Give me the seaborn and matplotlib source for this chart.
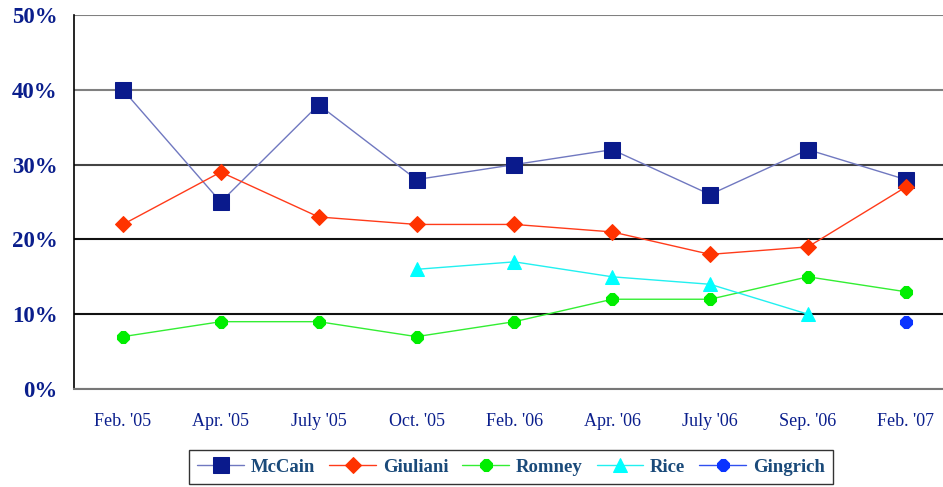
import numpy as np
import pandas as pd
import matplotlib
matplotlib.use("Agg")
import matplotlib.pyplot as plt
from matplotlib.ticker import FixedLocator, PercentFormatter
import seaborn as sns

# poll dates and candidate support (%)
dates = ["Feb. '05", "Apr. '05", "July '05", "Oct. '05", "Feb. '06",
         "Apr. '06", "July '06", "Sep. '06", "Feb. '07"]
mccain = [40, 25, 38, 28, 30, 32, 26, 32, 28]
giuliani = [22, 29, 23, 22, 22, 21, 18, 19, 27]
romney = [7, 9, 9, 7, 9, 12, 12, 15, 13]
rice = [np.nan, np.nan, np.nan, 16, 17, 15, 14, 10, np.nan]
gingrich = [np.nan, np.nan, np.nan, np.nan, np.nan, np.nan, np.nan, np.nan, 9]

sns.set_style("white")
plt.rcParams['font.family'] = ['Liberation Serif', 'DejaVu Serif']

fig = plt.figure(figsize=(9.43, 4.87), dpi=100)
ax = fig.add_axes([74 / 943, 1 - 389 / 487, 1 - 74 / 943, (389 - 15) / 487])

x = np.arange(len(dates))
series = [
    ("McCain", mccain, dict(color="#7078C0", marker="s", markersize=11,
                            markerfacecolor="#0A1A8C", markeredgecolor="#0A1A8C")),
    ("Giuliani", giuliani, dict(color="#FF3B1A", marker="D", markersize=8,
                                markerfacecolor="#FF3300", markeredgecolor="#FF3300")),
    ("Romney", romney, dict(color="#33EE33", marker="8", markersize=9,
                            markerfacecolor="#00EE00", markeredgecolor="#00EE00")),
    ("Rice", rice, dict(color="#22F0F0", marker="^", markersize=10,
                        markerfacecolor="#00FFFF", markeredgecolor="#00FFFF")),
    ("Gingrich", gingrich, dict(color="#3050F0", marker="8", markersize=9,
                                markerfacecolor="#0A33FF", markeredgecolor="#0A33FF")),
]

for name, vals, style in series:
    df = pd.DataFrame({"x": x, "y": vals}).dropna()
    sns.lineplot(data=df, x="x", y="y", ax=ax, label=name, linewidth=1.0, **style)

ax.set_xlim(-0.5, 8.38)
ax.set_ylim(0, 50)
ax.set_xlabel("")
ax.set_ylabel("")

ax.set_yticks([0, 10, 20, 30, 40, 50])
ax.yaxis.set_major_formatter(PercentFormatter(decimals=0))
ax.grid(axis="y", linewidth=1.5)
grid_colors = ["#808080", "#111111", "#111111", "#444444", "#808080", "#808080"]
for gl, c in zip(ax.get_ygridlines(), grid_colors):
    gl.set_color(c)
ax.set_axisbelow(True)

ax.set_xticks(x)
ax.set_xticklabels(dates)
ax.xaxis.set_minor_locator(FixedLocator(np.arange(-0.5, 8, 1.0)))
ax.tick_params(axis="x", which="major", length=0, pad=17, labelsize=13, labelcolor="#0A1E8C")
ax.tick_params(axis="x", which="minor", length=6, width=1.0, color="#444444", direction="out")
ax.tick_params(axis="y", length=5, width=1.5, color="#808080", direction="out",
               labelsize=16.5, labelcolor="#0A1E8C", pad=7)
for lab in ax.get_yticklabels():
    lab.set_fontweight("bold")

for side in ["top", "right"]:
    ax.spines[side].set_visible(False)
ax.spines["left"].set_color("black")
ax.spines["left"].set_linewidth(1.2)
ax.spines["bottom"].set_color("#777777")
ax.spines["bottom"].set_linewidth(1.5)

leg = ax.legend(loc="center", bbox_to_anchor=(511 / 943, 1 - 467 / 487), bbox_transform=fig.transFigure,
                ncol=5, frameon=True, fancybox=False, handlelength=2.5, handletextpad=0.35,
                columnspacing=0.75, borderpad=0.45, prop={"weight": "bold", "size": 13.5})
leg.get_frame().set_edgecolor("black")
leg.get_frame().set_linewidth(1.0)
for t in leg.get_texts():
    t.set_color("#1A4A7A")

fig.savefig("out.png", dpi=100)
